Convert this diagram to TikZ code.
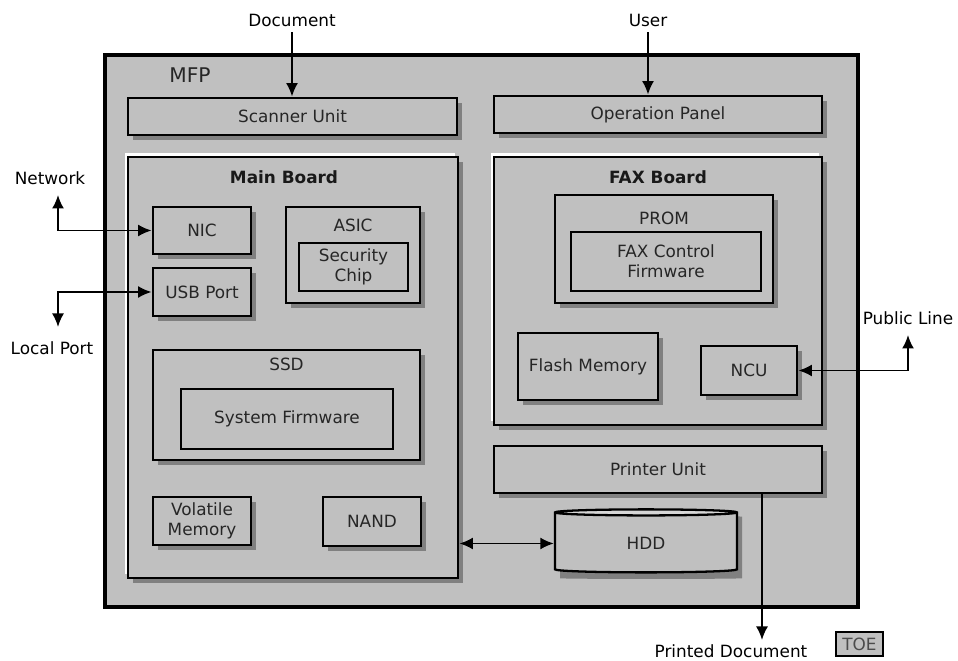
\documentclass[tikz,border=0pt]{standalone}
\usepackage{fontspec}
\setmainfont{DejaVu Sans}
\usetikzlibrary{arrows.meta,shadows,shapes.geometric}
\definecolor{boxgray}{HTML}{C0C0C0}
\definecolor{shadegray}{HTML}{808080}
\definecolor{disktop}{HTML}{D6D6D6}
\begin{document}
\begin{tikzpicture}[
  font=\fontsize{9.6}{11.5}\selectfont,
  unit/.style={draw, line width=1.6pt, fill=boxgray, text=black!85, inner sep=0pt, align=center,
    drop shadow={fill=shadegray, opacity=1, shadow xshift=0.1cm, shadow yshift=-0.1cm}},
  plain/.style={draw, line width=1.5pt, fill=boxgray, text=black!85, inner sep=0pt, align=center},
  board/.style={unit, general shadow={fill=white, shadow xshift=-0.07cm, shadow yshift=0.07cm}},
  title/.style={font=\fontsize{9.6}{11.5}\selectfont\bfseries, text=black!90},
  disk/.style={cylinder, shape border rotate=90, aspect=0.12, draw, line width=1.3pt,
    minimum width=3.64cm, minimum height=1.26cm},
  link/.style={line width=1.1pt, arrows={-Latex[length=2.7mm,width=2.4mm]}},
  both/.style={line width=1.1pt, arrows={Latex[length=2.7mm,width=2.4mm]-Latex[length=2.7mm,width=2.4mm]}}
]
\useasboundingbox (0,0) rectangle (19.16,13.22);

%MFP
\node[draw, line width=1.8pt, fill=boxgray, minimum width=15.06cm, minimum height=11.04cm] (mfp) at (9.63,6.60) {};
\node[font=\fontsize{11.5}{13}\selectfont, text=black!85] (mfplbl) at (3.80,11.72) {MFP};

%units
\node[unit, minimum width=6.58cm, minimum height=0.74cm] (scan) at (5.85,10.89) {Scanner Unit};
\node[unit, minimum width=6.56cm, minimum height=0.74cm] (panel) at (13.16,10.93) {Operation Panel};
\node[unit, minimum width=6.56cm, minimum height=0.94cm] (printer) at (13.16,3.83) {Printer Unit};

%main board
\node[board, minimum width=6.60cm, minimum height=8.42cm] (main) at (5.86,5.87) {};
\node[title] (maintitle) at (5.68,9.68) {Main Board};
\node[unit, minimum width=1.96cm, minimum height=0.94cm] (nic) at (4.04,8.61) {NIC};
\node[unit, minimum width=2.68cm, minimum height=1.92cm] (asic) at (7.06,8.12) {};
\node[text=black!85] (asiclbl) at (7.06,8.72) {ASIC};
\node[plain, minimum width=2.18cm, minimum height=0.96cm] (chip) at (7.07,7.88) {Security\\Chip};
\node[unit, minimum width=1.96cm, minimum height=0.96cm] (usb) at (4.04,7.38) {USB Port};
\node[unit, minimum width=5.34cm, minimum height=2.20cm] (ssd) at (5.73,5.12) {};
\node[text=black!85] (ssdlbl) at (5.73,5.94) {SSD};
\node[plain, minimum width=4.24cm, minimum height=1.20cm] (sysfw) at (5.74,4.84) {System Firmware};
\node[unit, minimum width=1.96cm, minimum height=0.96cm] (vmem) at (4.04,2.80) {Volatile\\Memory};
\node[unit, minimum width=1.96cm, minimum height=0.98cm] (nand) at (7.44,2.79) {NAND};

%fax board
\node[board, minimum width=6.56cm, minimum height=5.36cm] (fax) at (13.16,7.40) {};
\node[title] (faxtitle) at (13.16,9.68) {FAX Board};
\node[unit, minimum width=4.36cm, minimum height=2.16cm] (prom) at (13.28,8.24) {};
\node[text=black!85] (promlbl) at (13.28,8.86) {PROM};
\node[plain, minimum width=3.80cm, minimum height=1.18cm] (faxfw) at (13.32,7.99) {FAX Control\\Firmware};
\node[unit, minimum width=2.80cm, minimum height=1.34cm] (flash) at (11.76,5.89) {Flash Memory};
\node[unit, minimum width=1.92cm, minimum height=0.98cm] (ncu) at (14.98,5.81) {NCU};

%HDD
\node[disk, draw=none, fill=shadegray] (hddshade) at (13.02,2.25) {};
\node[disk, text=black!85, cylinder uses custom fill, cylinder body fill=boxgray,
  cylinder end fill=disktop] (hdd) at (12.92,2.35) {HDD};

%outside
\node[text=black] (doc) at (5.84,12.82) {Document};
\node[text=black] (user) at (12.96,12.82) {User};
\node[text=black] (net) at (1.00,9.66) {Network};
\node[text=black] (local) at (1.04,6.26) {Local Port};
\node[text=black] (public) at (18.16,6.86) {Public Line};
\node[text=black] (printed) at (14.62,0.20) {Printed Document};
\node[draw, line width=0.9pt, fill=boxgray, text=black!70, minimum width=0.94cm, minimum height=0.48cm, inner sep=0pt] (toe) at (17.19,0.34) {TOE};
\coordinate (netend) at (1.16,9.32);
\coordinate (localend) at (1.16,6.68);
\coordinate (pubend) at (18.16,6.52);
\coordinate (prend) at (15.24,0.42);

%connectors
\draw[link] (doc.south) -- (doc.south |- scan.north);
\draw[link] (user.south) -- (user.south |- panel.north);
\draw[both] (netend) |- (nic.west);
\draw[both] (localend) |- (usb.west);
\draw[both] (pubend) |- (ncu.east);
\draw[link] (printer.south -| prend) -- (prend);
\draw[both] (hdd.west -| main.east) -- (hdd.west);

\end{tikzpicture}
\end{document}
